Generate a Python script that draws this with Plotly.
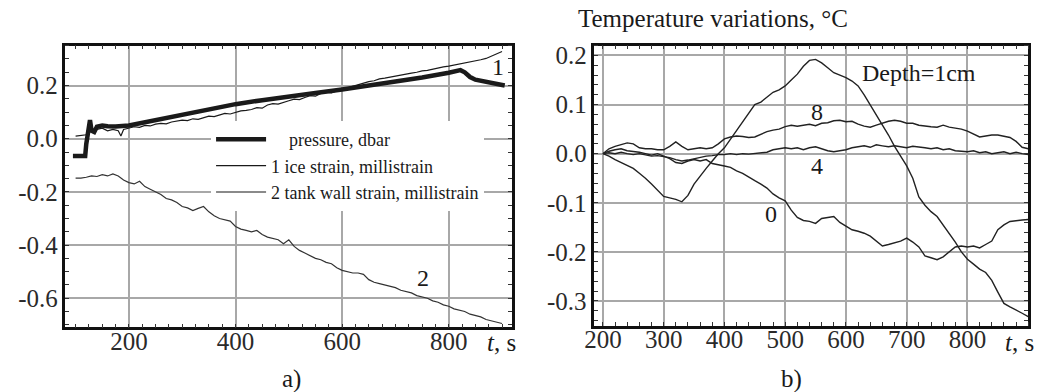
import plotly.graph_objects as go

# ---------------- data: panel a ----------------
t_pressure = [95, 100, 110, 118, 120, 124, 127, 130, 135, 140, 150, 160, 175, 200, 225, 250, 275, 300,
              325, 350, 375, 400, 450, 500, 550, 600, 650, 700, 750, 800, 815, 822, 830, 840, 850, 870, 900, 905]
pressure = [-0.065, -0.065, -0.065, -0.065, -0.02, 0.04, 0.07, 0.03, 0.025, 0.045, 0.05, 0.047, 0.046, 0.05,
            0.06, 0.07, 0.082, 0.093, 0.10, 0.11, 0.12, 0.13, 0.145, 0.16, 0.172, 0.185, 0.2, 0.213, 0.23,
            0.248, 0.255, 0.258, 0.25, 0.232, 0.222, 0.213, 0.203, 0.2]

t_ice = [100, 110, 120, 125, 130, 140, 150, 160, 170, 180, 185, 190, 200, 210, 220, 230, 240, 250, 260, 270,
         280, 290, 300, 310, 320, 330, 340, 350, 360, 370, 380, 390, 400, 410, 420, 430, 440, 450, 460, 470,
         480, 490, 500, 510, 520, 530, 540, 550, 560, 570, 580, 590, 600, 610, 620, 630, 640, 650, 660, 670,
         680, 690, 700, 710, 720, 730, 740, 750, 760, 770, 780, 790, 800, 810, 820, 830, 840, 850, 860, 870,
         880, 890, 900]
ice = [0.01, 0.012, 0.015, 0.05, 0.03, 0.035, 0.04, 0.03, 0.035, 0.03, 0.01, 0.035, 0.04, 0.045, 0.043,
       0.05, 0.048, 0.055, 0.058, 0.056, 0.063, 0.066, 0.07, 0.068, 0.075, 0.073, 0.08, 0.085, 0.083, 0.09,
       0.095, 0.093, 0.1, 0.105, 0.107, 0.11, 0.117, 0.115, 0.127, 0.132, 0.13, 0.138, 0.143, 0.149, 0.147,
       0.155, 0.162, 0.16, 0.17, 0.175, 0.172, 0.18, 0.184, 0.191, 0.197, 0.203, 0.208, 0.215, 0.218, 0.225,
       0.228, 0.232, 0.236, 0.24, 0.245, 0.247, 0.25, 0.255, 0.257, 0.262, 0.265, 0.27, 0.273, 0.277, 0.28,
       0.284, 0.287, 0.292, 0.297, 0.302, 0.31, 0.32, 0.328]

t_tank = [100, 110, 120, 130, 140, 150, 160, 170, 180, 190, 200, 210, 220, 230, 240, 250, 260, 270, 280, 290,
          300, 310, 320, 330, 340, 350, 360, 370, 380, 390, 400, 410, 420, 430, 440, 450, 460, 470, 480, 490,
          500, 510, 520, 530, 540, 550, 560, 570, 580, 590, 600, 610, 620, 630, 640, 650, 660, 670, 680, 690,
          700, 710, 720, 730, 740, 750, 760, 770, 780, 790, 800, 810, 820, 830, 840, 850, 860, 870, 880, 890,
          900]
tank = [-0.148, -0.148, -0.145, -0.14, -0.142, -0.135, -0.14, -0.132, -0.14, -0.155, -0.165, -0.17, -0.16,
        -0.18, -0.19, -0.2, -0.21, -0.225, -0.23, -0.24, -0.255, -0.26, -0.27, -0.262, -0.255, -0.275, -0.29,
        -0.3, -0.305, -0.31, -0.33, -0.34, -0.345, -0.35, -0.345, -0.36, -0.37, -0.375, -0.38, -0.395, -0.38,
        -0.405, -0.42, -0.43, -0.44, -0.45, -0.455, -0.465, -0.47, -0.485, -0.495, -0.5, -0.505, -0.505, -0.51,
        -0.53, -0.54, -0.545, -0.55, -0.555, -0.56, -0.57, -0.575, -0.58, -0.59, -0.595, -0.6, -0.61, -0.615,
        -0.625, -0.63, -0.64, -0.645, -0.65, -0.66, -0.665, -0.67, -0.68, -0.685, -0.69, -0.695]

# ---------------- data: panel b ----------------
t_temp = [200, 210, 220, 230, 240, 250, 260, 270, 280, 290, 300, 310, 320, 330, 340, 350, 360, 370, 380, 390,
          400, 410, 420, 430, 440, 450, 460, 470, 480, 490, 500, 510, 520, 530, 540, 550, 560, 570, 580, 590,
          600, 610, 620, 630, 640, 650, 660, 670, 680, 690, 700, 710, 720, 730, 740, 750, 760, 770, 780, 790,
          800, 810, 820, 830, 840, 850, 860, 870, 880, 890, 900]
depth_1 = [0.0, -0.005, -0.012, -0.018, -0.025, -0.03, -0.04, -0.05, -0.062, -0.075, -0.087, -0.09, -0.093,
           -0.098, -0.085, -0.062, -0.045, -0.03, -0.015, 0.0, 0.012, 0.03, 0.048, 0.065, 0.082, 0.1, 0.105,
           0.115, 0.125, 0.13, 0.138, 0.15, 0.162, 0.178, 0.19, 0.192, 0.185, 0.175, 0.165, 0.16, 0.155, 0.148,
           0.138, 0.12, 0.1, 0.08, 0.06, 0.038, 0.015, -0.005, -0.025, -0.05, -0.088, -0.105, -0.118, -0.128,
           -0.145, -0.162, -0.18, -0.2, -0.215, -0.225, -0.235, -0.242, -0.258, -0.282, -0.305, -0.312, -0.318,
           -0.325, -0.332]
depth_0 = [0.0, 0.005, 0.008, 0.01, 0.006, 0.005, 0.003, 0.0, -0.003, 0.0, -0.005, -0.01, -0.018, -0.02,
           -0.015, -0.012, -0.015, -0.012, -0.02, -0.022, -0.025, -0.028, -0.035, -0.04, -0.048, -0.055, -0.062,
           -0.07, -0.082, -0.09, -0.096, -0.115, -0.13, -0.136, -0.138, -0.142, -0.132, -0.13, -0.128, -0.14,
           -0.148, -0.155, -0.158, -0.162, -0.168, -0.178, -0.188, -0.185, -0.182, -0.178, -0.172, -0.18, -0.19,
           -0.208, -0.212, -0.216, -0.21, -0.2, -0.19, -0.188, -0.19, -0.188, -0.192, -0.185, -0.178, -0.155,
           -0.145, -0.138, -0.136, -0.135, -0.134]
depth_8 = [0.0, 0.01, 0.015, 0.018, 0.022, 0.02, 0.012, 0.01, 0.01, 0.008, 0.008, 0.015, 0.024, 0.015, 0.008,
           0.01, 0.012, 0.01, 0.012, 0.02, 0.03, 0.034, 0.036, 0.035, 0.033, 0.034, 0.04, 0.045, 0.048, 0.05,
           0.055, 0.058, 0.056, 0.058, 0.06, 0.057, 0.062, 0.063, 0.067, 0.068, 0.065, 0.066, 0.06, 0.056, 0.054,
           0.058, 0.062, 0.066, 0.068, 0.066, 0.062, 0.062, 0.058, 0.056, 0.055, 0.054, 0.058, 0.054, 0.052,
           0.05, 0.046, 0.04, 0.034, 0.036, 0.038, 0.038, 0.035, 0.033, 0.025, 0.013, 0.01]
depth_4 = [0.0, 0.002, 0.0, 0.003, 0.0, -0.002, 0.0, -0.003, -0.005, -0.004, -0.006, -0.008, -0.012, -0.015,
           -0.013, -0.01, -0.008, -0.005, -0.004, -0.002, -0.002, 0.0, -0.002, 0.0, -0.001, 0.0, 0.002, 0.003,
           0.008, 0.01, 0.012, 0.01, 0.012, 0.008, 0.012, 0.014, 0.01, 0.006, 0.004, 0.006, 0.008, 0.012, 0.014,
           0.016, 0.013, 0.018, 0.016, 0.014, 0.016, 0.014, 0.012, 0.015, 0.014, 0.012, 0.01, 0.012, 0.008, 0.01,
           0.006, 0.005, 0.004, 0.006, 0.002, 0.004, 0.0, 0.002, 0.004, 0.0, 0.003, 0.0, -0.002]

# tick labels
xa_ticks = [200, 400, 600, 800]
ya_ticks = [0.2, 0.0, -0.2, -0.4, -0.6]
ya_text = ["0.2", "0.0", "-0.2", "-0.4", "-0.6"]
xb_ticks = [200, 300, 400, 500, 600, 700, 800]
yb_ticks = [0.2, 0.1, 0.0, -0.1, -0.2, -0.3]
yb_text = ["0.2", "0.1", "0.0", "-0.1", "-0.2", "-0.3"]

FONT = "Liberation Serif"
INK = "#1a1a1a"

fig = go.Figure()

# panel a
fig.add_trace(go.Scatter(x=t_pressure, y=pressure, mode="lines", name="\u2003pressure, dbar",
                         line=dict(color=INK, width=4.5), xaxis="x", yaxis="y"))
fig.add_trace(go.Scatter(x=t_ice, y=ice, mode="lines", name="1 ice strain, millistrain",
                         line=dict(color=INK, width=1.2), xaxis="x", yaxis="y"))
fig.add_trace(go.Scatter(x=t_tank, y=tank, mode="lines", name="2 tank wall strain, millistrain",
                         line=dict(color="#333333", width=1.2), xaxis="x", yaxis="y", showlegend=False))
fig.add_trace(go.Scatter(x=[None], y=[None], mode="lines", name="2 tank wall strain, millistrain",
                         line=dict(color="#8a8a8a", width=2), xaxis="x", yaxis="y"))

# panel b
for series in (depth_1, depth_0, depth_8, depth_4):
    fig.add_trace(go.Scatter(x=t_temp, y=series, mode="lines", showlegend=False,
                             line=dict(color="#222222", width=1.4), xaxis="x2", yaxis="y2"))

axis_common = dict(
    showline=True, linecolor="#111111", linewidth=2.5, mirror="allticks",
    showgrid=True, gridcolor="#a8a8a8", gridwidth=1.5, zeroline=False,
    ticks="", tickfont=dict(family=FONT, size=25, color="#2a2a2a"),
)

fig.update_layout(
    width=1051, height=392, autosize=False,
    margin=dict(l=0, r=0, t=0, b=0),
    paper_bgcolor="white", plot_bgcolor="white",
    font=dict(family=FONT, color=INK, size=24),
    xaxis=dict(axis_common, domain=[56 / 1051, 507 / 1051], range=[81, 919],
               tickvals=xa_ticks, anchor="y", ticklabelstandoff=-10,
               minor=dict(ticks="inside", ticklen=4, dtick=25, tick0=0, tickcolor="#333", showgrid=False)),
    yaxis=dict(axis_common, domain=[65 / 392, 349 / 392], range=[-0.71, 0.35],
               tickvals=ya_ticks, ticktext=ya_text, anchor="x",
               minor=dict(ticks="inside", ticklen=4, dtick=0.05, tick0=0, tickcolor="#333", showgrid=False)),
    xaxis2=dict(axis_common, domain=[590 / 1051, 1028 / 1051], range=[186, 900],
                tickvals=xb_ticks, anchor="y2", ticklabelstandoff=-10,
                minor=dict(ticks="inside", ticklen=4, dtick=20, tick0=0, tickcolor="#333", showgrid=False)),
    yaxis2=dict(axis_common, domain=[67 / 392, 349 / 392], range=[-0.35, 0.22],
                tickvals=yb_ticks, ticktext=yb_text, anchor="x2",
                minor=dict(ticks="inside", ticklen=4, dtick=0.02, tick0=0, tickcolor="#333", showgrid=False)),
    legend=dict(x=203 / 1051, y=1 - 119 / 392, xanchor="left", yanchor="top",
                bgcolor="white", borderwidth=0, font=dict(family=FONT, size=18, color=INK),
                itemwidth=50, tracegroupgap=0),
)

ann_font = dict(family=FONT, size=24, color=INK)
txt_font = dict(family=FONT, size=25, color=INK)
annotations = [
    dict(x=893, y=0.27, xref="x", yref="y", text="1", showarrow=False, font=ann_font),
    dict(x=752, y=-0.525, xref="x", yref="y", text="2", showarrow=False, font=ann_font),
    dict(x=720, y=0.165, xref="x2", yref="y2", text="Depth=1cm", showarrow=False, font=ann_font),
    dict(x=552, y=0.085, xref="x2", yref="y2", text="8", showarrow=False, font=ann_font),
    dict(x=552, y=-0.026, xref="x2", yref="y2", text="4", showarrow=False, font=ann_font),
    dict(x=476, y=-0.122, xref="x2", yref="y2", text="0", showarrow=False, font=ann_font),
    dict(x=496 / 1051, y=1 - 342 / 392, xref="paper", yref="paper", text="<i>t</i>, s",
         yanchor="middle", showarrow=False, font=txt_font),
    dict(x=1036 / 1051, y=1 - 342 / 392, xref="paper", yref="paper", text="<i>t</i>, s",
         yanchor="middle", showarrow=False, font=txt_font),
    dict(x=571 / 1051, y=1 - 16 / 392, xref="paper", yref="paper", text="Temperature variations, °C",
         xanchor="left", yanchor="middle", showarrow=False, font=txt_font),
    dict(x=273 / 1051, y=1 - 379 / 392, xref="paper", yref="paper", text="a)",
         yanchor="middle", showarrow=False, font=txt_font),
    dict(x=802 / 1051, y=1 - 379 / 392, xref="paper", yref="paper", text="b)",
         yanchor="middle", showarrow=False, font=txt_font),
]
fig.update_layout(annotations=annotations)

fig.write_html("out.html")
